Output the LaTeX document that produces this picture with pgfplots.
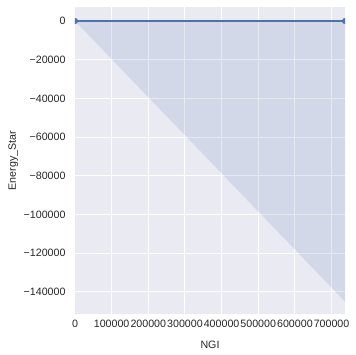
\documentclass[border=0pt]{standalone}
\usepackage{pgfplots}
\pgfplotsset{compat=1.18}
\usepackage{fontspec}
\setmainfont{Liberation Sans}
\definecolor{sbbg}{HTML}{EAEAF2}
\definecolor{sbblue}{HTML}{4C72B0}
\begin{document}
\begin{tikzpicture}
\begin{axis}[
  scale only axis,
  width=270bp, height=307bp,
  xmin=0, xmax=736700,
  ymin=-151400, ymax=7235,
  axis background/.style={fill=sbbg},
  axis line style={draw=none},
  grid=major,
  grid style={white, line width=1bp},
  major tick length=0pt,
  clip marker paths=true,
  xtick={0,100000,...,700000},
  ytick={-140000,-120000,-100000,-80000,-60000,-40000,-20000,0},
  yticklabels={−140000,−120000,−100000,−80000,−60000,−40000,−20000,0},
  scaled ticks=false,
  /pgf/number format/fixed,
  /pgf/number format/1000 sep={},
  /pgf/number format/assume math mode=true,
  tick label style={font=\fontsize{10.7}{12}\selectfont, text=black!85},
  xticklabel style={yshift=-3bp},
  yticklabel style={xshift=-6bp},
  label style={font=\fontsize{10.7}{12}\selectfont, text=black!85},
  xlabel={NGI},
  ylabel={Energy\_Star},
  xlabel style={at={(rel axis cs:0.5,0)}, anchor=base, yshift=-34bp},
  ylabel style={at={(rel axis cs:0,0.5)}, anchor=base, rotate=0, yshift=59bp},
]
\addplot[draw=none, fill=sbblue, fill opacity=0.15] coordinates {
  (0,0) (736700,0) (736700,-145000) (0,0)
};
\addplot[sbblue, line width=2.3bp] coordinates {(0,0) (736700,0)};
\addplot[only marks, mark=*, mark size=2.8bp, sbblue] coordinates {
  (0,0) (736700,0)
};
\coordinate (bl) at (rel axis cs:0,0);
\coordinate (tr) at (rel axis cs:1,1);
\end{axis}
\pgfresetboundingbox
\path ([shift={(-75bp,-41bp)}]bl) rectangle ([shift={(11bp,7bp)}]tr);
\end{tikzpicture}
\end{document}
